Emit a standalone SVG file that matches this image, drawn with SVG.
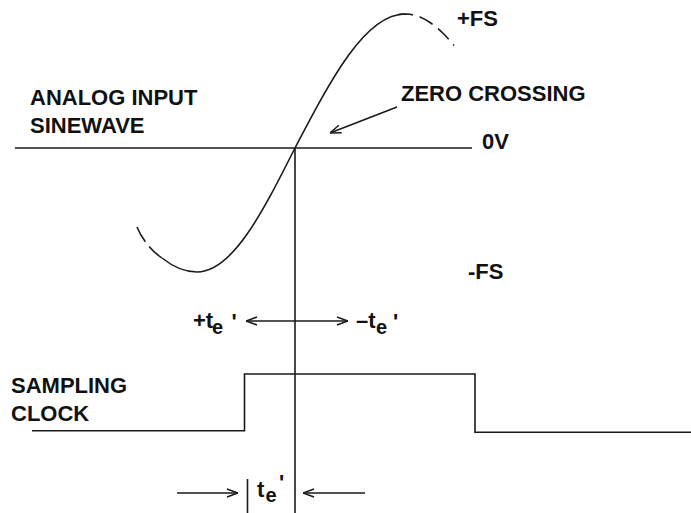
<svg xmlns="http://www.w3.org/2000/svg" width="691" height="513" viewBox="0 0 691 513">
<style>
.ln{fill:none;stroke:#1a1a1a;stroke-width:1.6}
.cv{fill:none;stroke:#1a1a1a;stroke-width:1.6}
.lb{font-family:"Liberation Sans",Arial,sans-serif;font-weight:bold;font-size:22px;fill:#111}
.te{font-family:"Liberation Sans",Arial,sans-serif;font-weight:bold;font-size:22px;fill:#111}
.sub{font-family:"Liberation Sans",Arial,sans-serif;font-weight:bold;font-size:20px;fill:#111}
</style>
<defs>
<marker id="ah" viewBox="0 0 12 10" refX="12" refY="5" markerWidth="12" markerHeight="10" markerUnits="userSpaceOnUse" orient="auto-start-reverse">
<path d="M1,1 L12,5 L1,9" fill="none" stroke="#1a1a1a" stroke-width="1.5"/>
</marker>
</defs>
<rect width="691" height="513" fill="#fff"/>
<g id="sinewave">
<path class="cv" d="M162,258 C172,266 183,272 197,272 C232.5,272 263,211.5 295,148 C330.9,79.4 365.2,14 405,14"/>
<path class="cv" stroke-dasharray="17,6" d="M137,227 C141,237 150,250 162,258"/>
<polyline class="cv" stroke-dasharray="15,7" points="398,14.7 400,14.3 405,14 410,14.3 415,15.4 420,17 425,19.4 430,22.5 435,26.1 440,30.4 445,35.3 450,40.7 454,45.5"/>
</g>
<g id="clock">
<polyline class="ln" points="32,430.7 244.5,430.7 244.5,374 475,374 475,432.3 691,432.3"/>
</g>
<g id="connectors">
<line class="ln" x1="15" y1="148" x2="472" y2="148"/>
<line class="ln" x1="295" y1="148" x2="295" y2="513"/>
<line class="ln" x1="397" y1="107" x2="330" y2="133" marker-end="url(#ah)"/>
<line class="ln" x1="246" y1="321" x2="348" y2="321" marker-start="url(#ah)" marker-end="url(#ah)"/>
<line class="ln" x1="177" y1="493" x2="238" y2="493" marker-end="url(#ah)"/>
<line class="ln" x1="365" y1="493" x2="303" y2="493" marker-end="url(#ah)"/>
<line class="ln" x1="247.5" y1="479" x2="247.5" y2="513"/>
</g>
<g id="label-fs-pos"><text class="lb" x="457" y="26">+FS</text></g>
<g id="label-analog"><text class="lb" x="30" y="105">ANALOG INPUT</text><text class="lb" x="30" y="133">SINEWAVE</text></g>
<g id="label-zero"><text class="lb" x="401" y="101">ZERO CROSSING</text></g>
<g id="label-0v"><text class="lb" x="482" y="149">0V</text></g>
<g id="label-fs-neg"><text class="lb" x="468" y="279">-FS</text></g>
<g id="label-sampling"><text class="lb" x="11" y="393">SAMPLING</text><text class="lb" x="11" y="421">CLOCK</text></g>
<g id="label-te-pos"><text class="te" x="193" y="328">+t</text><text class="sub" x="212" y="334">e</text><text class="te" x="231.5" y="329">'</text></g>
<g id="label-te-neg"><text class="te" x="356" y="328">–t</text><text class="sub" x="376" y="334">e</text><text class="te" x="393" y="329">'</text></g>
<g id="label-te"><text class="te" x="257" y="497">t</text><text class="sub" x="265.5" y="502">e</text><text class="te" x="279" y="490">'</text></g>
</svg>
